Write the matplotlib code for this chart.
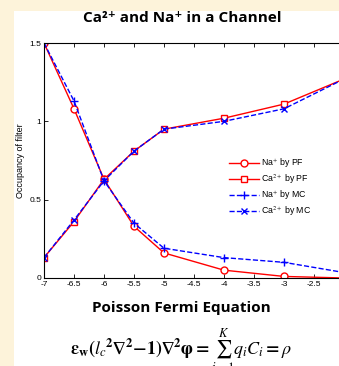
import matplotlib.pyplot as plt
from matplotlib.patches import Rectangle

plt.rcParams['mathtext.fontset'] = 'stix'
plt.rcParams['font.family'] = ['Liberation Sans', 'DejaVu Sans']

# log concentration of Ca2+ in bath
conc = [-7, -6.5, -6, -5.5, -5, -4, -3, -2]
na_pf = [1.5, 1.08, 0.63, 0.33, 0.16, 0.05, 0.01, 0.0]
ca_pf = [0.13, 0.36, 0.63, 0.81, 0.95, 1.02, 1.11, 1.27]
na_mc = [1.5, 1.13, 0.62, 0.35, 0.19, 0.13, 0.10, 0.035]
ca_mc = [0.13, 0.37, 0.62, 0.81, 0.95, 1.0, 1.08, 1.27]

fig = plt.figure(figsize=(3.39, 3.66), dpi=100)
fig.patch.set_facecolor('#fdf3da')
fig.add_artist(Rectangle((14 / 339, 0), 1, (366 - 11) / 366, transform=fig.transFigure,
                         facecolor='white', edgecolor='none', zorder=-5))

ax = fig.add_axes([44 / 339, 88 / 366, 300 / 339, 235 / 366])
ax.plot(conc, na_pf, 'r-o', lw=1, ms=5, mfc='white', mew=1, label='Na$^{+}$ by PF')
ax.plot(conc, ca_pf, 'r-s', lw=1, ms=5, mfc='white', mew=1, label='Ca$^{2+}$ by PF')
ax.plot(conc, na_mc, 'b--+', lw=1, ms=6, mew=1, label='Na$^{+}$ by MC')
ax.plot(conc, ca_mc, 'b--x', lw=1, ms=4, mew=1, label='Ca$^{2+}$ by MC')

ax.set_xlim(-7, -2)
ax.set_ylim(0, 1.5)
ax.set_xticks([-7, -6.5, -6, -5.5, -5, -4.5, -4, -3.5, -3, -2.5, -2])
ax.set_xticklabels(['-7', '-6.5', '-6', '-5.5', '-5', '-4.5', '-4', '-3.5', '-3', '-2.5', '-2'])
ax.set_yticks([0, 0.5, 1, 1.5])
ax.set_yticklabels(['0', '0.5', '1', '1.5'])
ax.tick_params(direction='in', length=3, width=0.6, labelsize=6, top=True, right=True, pad=2)
for sp in ax.spines.values():
    sp.set_linewidth(0.8)
ax.set_ylabel('Occupancy of filter', fontsize=6.5, labelpad=3)

leg = ax.legend(loc='upper left', bbox_to_anchor=(0.59, 0.55), fontsize=6.3, frameon=False,
                handlelength=3.4, labelspacing=0.3, handletextpad=0.3)

fig.text(182 / 339, 1 - 18 / 366, 'Ca²⁺ and Na⁺ in a Channel', ha='center', va='center',
         fontsize=11, fontweight='bold', family=['Open Sans', 'DejaVu Sans'])
fig.text(181 / 339, 1 - 308 / 366, 'Poisson Fermi Equation', ha='center', va='center',
         fontsize=11, fontweight='bold', family='Open Sans')
fig.text(181 / 339, 1 - 350 / 366,
         r'$\boldsymbol{\varepsilon}_{\mathbf{w}}\mathbf{(}l_c{}^{\mathbf{2}}\mathbf{\nabla}^{\mathbf{2}}\mathbf{-1)\nabla^{2}}\boldsymbol{\varphi}\mathbf{=}\sum_{i=1}^{K}q_iC_i\mathbf{=}\rho$',
         ha='center', va='center', fontsize=13)

fig.savefig('out.png', dpi=100)
